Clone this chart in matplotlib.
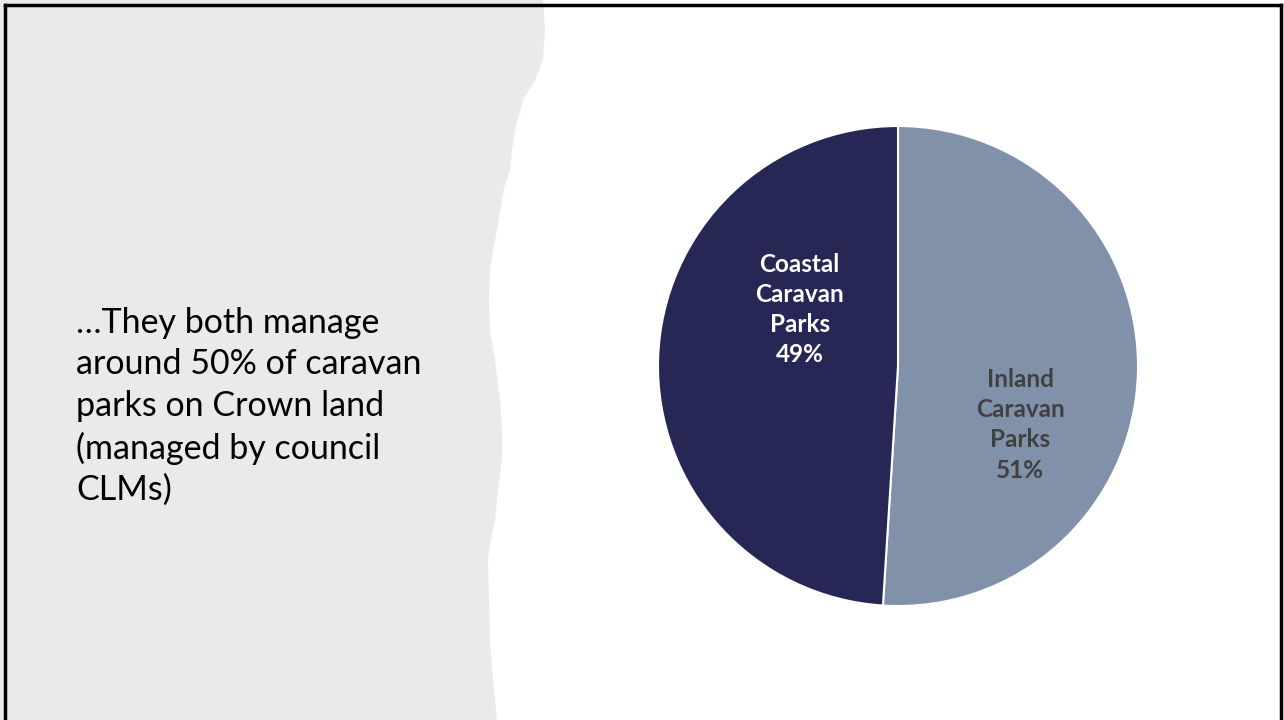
import matplotlib.pyplot as plt
from matplotlib.patches import Polygon
from matplotlib.lines import Line2D

# data
categories = ['Inland\nCaravan\nParks', 'Coastal\nCaravan\nParks']
shares = [51, 49]
colors = ['#8191AA', '#262754']
label_colors = ['#404040', 'white']
headline = ('\u2026They both manage\naround 50% of caravan\nparks on Crown land\n'
            '(managed by council\nCLMs)')

W, H = 1284, 720
fig = plt.figure(figsize=(W / 100, H / 100), dpi=100)
fig.patch.set_facecolor('white')

# torn paper panel on the left (pixel coords, y down)
edge = [(543, 0), (545, 30), (543, 60), (535, 80), (523, 100), (515, 130),
        (512, 150), (510, 170), (505, 185), (502, 200), (497, 230),
        (493, 250), (490, 270), (489, 300), (490, 330), (495, 360),
        (500, 400), (502, 430), (502, 460), (498, 490), (495, 520),
        (490, 545), (488, 560), (489, 600), (490, 640), (493, 680),
        (495, 700), (497, 720)]
pts = [(0, 0)] + edge + [(0, 720)]
poly = Polygon([(x / W, 1 - y / H) for x, y in pts], closed=True,
               transform=fig.transFigure, facecolor='#EBEAE8',
               edgecolor='none', zorder=0)
fig.patches.append(poly)

# frame lines (top, left, right)
for xs, ys in [((5 / W, 1281 / W), (1 - 5 / H, 1 - 5 / H)),
               ((5 / W, 5 / W), (1 - 5 / H, 0)),
               ((1281 / W, 1281 / W), (1 - 5 / H, 0))]:
    fig.add_artist(Line2D(xs, ys, transform=fig.transFigure,
                          color='black', lw=2.5, zorder=5))

fig.text(76 / W, 1 - 307 / H, headline, fontsize=24.5, family='Lato',
         color='black', va='top', ha='left', linespacing=1.36)

# pie
cx, cy, r = 898, 366, 240
ax = fig.add_axes([(cx - r) / W, 1 - (cy + r) / H, 2 * r / W, 2 * r / H])
ax.pie(shares, colors=colors, startangle=90, counterclock=False,
       wedgeprops=dict(edgecolor='white', linewidth=1.5))
ax.set_xlim(-1, 1)
ax.set_ylim(-1, 1)
ax.set_aspect('equal')
ax.axis('off')

label_pos = [(0.51, -0.245), (-0.41, 0.235)]
for cat, val, col, (lx, ly) in zip(categories, shares, label_colors, label_pos):
    ax.text(lx, ly, f'{cat}\n{val}%', ha='center', va='center', color=col,
            fontsize=17.5, fontweight='bold', family='Lato', linespacing=1.38)

fig.savefig('out.png', dpi=100)
